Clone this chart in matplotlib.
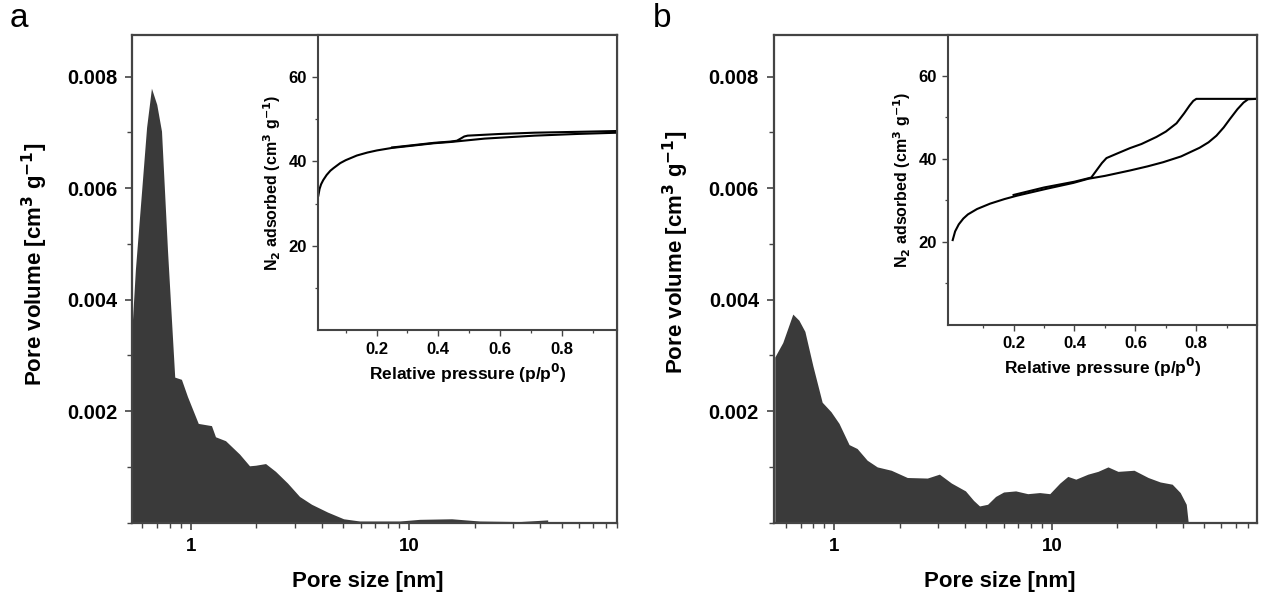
import matplotlib
matplotlib.use("Agg")
import matplotlib.pyplot as plt
from matplotlib.ticker import FixedLocator, MultipleLocator, FormatStrFormatter, LogLocator, NullFormatter
import numpy as np

plt.rcParams["font.family"] = ["Liberation Sans", "DejaVu Sans"]
plt.rcParams["font.weight"] = "bold"
plt.rcParams["mathtext.default"] = "bf"

FILL = "#3a3a3a"
SPINE = "#444444"

# ---- panel a: pore size distribution ----
size_a = [0.535, 0.558, 0.595, 0.628, 0.661, 0.699, 0.735, 0.783, 0.845, 0.907,
          0.967, 1.083, 1.245, 1.299, 1.444, 1.674, 1.860, 1.982, 2.203, 2.447,
          2.778, 3.153, 3.579, 4.236, 5.016, 5.94, 9.06, 11.19, 15.69, 21.08,
          32.15, 43.2]
vol_a = [0.00330, 0.00454, 0.00592, 0.00709, 0.00779, 0.00750, 0.00702, 0.00488, 0.00261, 0.00257,
         0.00226, 0.00178, 0.00174, 0.00154, 0.00147, 0.00123, 0.00102, 0.00103, 0.00106, 0.00092,
         0.00071, 0.00047, 0.00033, 0.00019, 0.00007, 0.00003, 0.00003, 0.00006, 0.00007, 0.00003,
         0.00002, 0.00005]

# ---- panel b: pore size distribution ----
size_b = [0.533, 0.580, 0.645, 0.688, 0.733, 0.798, 0.880, 0.966, 1.052, 1.170,
          1.274, 1.417, 1.576, 1.828, 2.167, 2.679, 3.043, 3.457, 4.011, 4.368,
          4.655, 5.07, 5.517, 6.006, 6.823, 7.75, 8.80, 9.79, 10.89, 11.85,
          12.90, 14.66, 16.30, 18.13, 20.16, 23.89, 27.73, 31.50, 35.77, 38.94,
          41.51, 42.4]
vol_b = [0.00297, 0.00323, 0.00374, 0.00363, 0.00343, 0.00281, 0.00216, 0.00199, 0.00178, 0.00140,
         0.00133, 0.00112, 0.00100, 0.00094, 0.00081, 0.00080, 0.00087, 0.00071, 0.00057, 0.00040,
         0.00030, 0.00033, 0.00047, 0.00055, 0.00057, 0.00052, 0.00054, 0.00052, 0.00071, 0.00083,
         0.00078, 0.00087, 0.00092, 0.00100, 0.00092, 0.00094, 0.00081, 0.00073, 0.00069, 0.00054,
         0.00033, 0.0]

# ---- insets: N2 isotherms (adsorption / desorption) ----
p_ads_a = [0.011, 0.015, 0.02, 0.027, 0.038, 0.05, 0.06, 0.082, 0.1, 0.136,
           0.17, 0.201, 0.25, 0.3, 0.386, 0.44, 0.55, 0.712, 0.85, 0.982]
n_ads_a = [31.9, 33.5, 34.6, 35.6, 36.8, 37.8, 38.4, 39.6, 40.3, 41.4,
           42.1, 42.6, 43.2, 43.6, 44.3, 44.6, 45.4, 46.1, 46.5, 46.8]
p_des_a = [0.982, 0.85, 0.712, 0.6, 0.495, 0.484, 0.47, 0.46, 0.44, 0.386, 0.3, 0.25]
n_des_a = [47.2, 47.0, 46.8, 46.5, 46.1, 45.9, 45.3, 44.9, 44.7, 44.4, 43.7, 43.3]

p_ads_b = [0.0, 0.008, 0.02, 0.035, 0.05, 0.08, 0.123, 0.17, 0.21, 0.309,
           0.396, 0.445, 0.5, 0.582, 0.64, 0.691, 0.75, 0.811, 0.84, 0.866,
           0.89, 0.91, 0.935, 0.955, 0.97, 1.0]
n_ads_b = [20.4, 22.5, 24.2, 25.6, 26.6, 27.9, 29.2, 30.3, 31.1, 32.8,
           34.2, 35.2, 35.9, 37.2, 38.2, 39.2, 40.6, 42.7, 44.0, 45.6,
           47.6, 49.6, 52.0, 53.6, 54.4, 54.5]
p_des_b = [1.0, 0.8, 0.79, 0.778, 0.76, 0.735, 0.7, 0.669, 0.62, 0.582,
           0.54, 0.505, 0.49, 0.47, 0.455, 0.4, 0.3, 0.2]
n_des_b = [54.5, 54.5, 54.0, 52.9, 51.0, 48.6, 46.6, 45.3, 43.6, 42.6,
           41.3, 40.2, 39.0, 37.0, 35.5, 34.5, 33.1, 31.3]

fig = plt.figure(figsize=(12.61, 6.03), dpi=100)


def style_main(ax, size, vol, xlim, xlab_x, ylab_xy):
    ax.fill_between(size, vol, 0, color=FILL, linewidth=0)
    ax.set_xscale("log")
    ax.set_xlim(*xlim)
    ax.set_ylim(0, 0.00875)
    ax.yaxis.set_major_locator(FixedLocator([0.002, 0.004, 0.006, 0.008]))
    ax.yaxis.set_major_formatter(FormatStrFormatter("%.3f"))
    ax.yaxis.set_minor_locator(MultipleLocator(0.001))
    ax.xaxis.set_major_locator(FixedLocator([1, 10]))
    ax.set_xticklabels(["1", "10"])
    ax.xaxis.set_minor_locator(LogLocator(base=10, subs=np.arange(2, 10)))
    ax.xaxis.set_minor_formatter(NullFormatter())
    ax.tick_params(which="major", direction="out", length=5, width=1.2, color=SPINE, pad=6)
    ax.tick_params(axis="y", which="major", labelsize=14.5)
    ax.tick_params(axis="x", which="major", labelsize=13.5)
    ax.tick_params(which="minor", direction="out", length=3.5, width=1.0, color=SPINE)
    for s in ax.spines.values():
        s.set_color(SPINE)
        s.set_linewidth(1.6)
    ax.set_xlabel("Pore size [nm]", fontsize=16, fontweight="bold")
    ax.set_ylabel("Pore volume [cm$^3$ g$^{-1}$]", fontsize=16, fontweight="bold")
    ax.xaxis.set_label_coords(xlab_x, -0.1)
    ax.yaxis.set_label_coords(*ylab_xy)


def style_inset(ins, pa, na, pd, nd, xlim):
    ins.plot(pa, na, color="black", lw=1.5)
    ins.plot(pd, nd, color="black", lw=1.5)
    ins.set_xlim(*xlim)
    ins.set_ylim(0, 70)
    ins.xaxis.set_major_locator(FixedLocator([0.2, 0.4, 0.6, 0.8]))
    ins.xaxis.set_minor_locator(FixedLocator([0.1, 0.3, 0.5, 0.7, 0.9]))
    ins.yaxis.set_major_locator(FixedLocator([20, 40, 60]))
    ins.yaxis.set_minor_locator(FixedLocator([10, 30, 50]))
    ins.tick_params(which="major", direction="out", length=4, width=1.0, color=SPINE,
                    labelsize=12, pad=4)
    ins.tick_params(which="minor", direction="out", length=2.5, width=0.9, color=SPINE)
    for s in ins.spines.values():
        s.set_color(SPINE)
        s.set_linewidth(1.5)
    ins.set_xlabel("Relative pressure (p/p$^0$)", fontsize=12.5, fontweight="bold", labelpad=4)
    ins.set_ylabel("N$_2$ adsorbed (cm$^3$ g$^{-1}$)", fontsize=11.5, fontweight="bold", labelpad=4)


ax_a = fig.add_axes([0.1049, 0.1332, 0.3846, 0.8093])
style_main(ax_a, size_a, vol_a, (0.54, 90), 0.486, (-0.169, 0.53))
ins_a = ax_a.inset_axes([0.383, 0.394, 0.617, 0.606])
style_inset(ins_a, p_ads_a, n_ads_a, p_des_a, n_des_a, (0.01, 0.98))

ax_b = fig.add_axes([0.614, 0.1332, 0.383, 0.8093])
style_main(ax_b, size_b, vol_b, (0.53, 88), 0.466, (-0.173, 0.555))
ins_b = ax_b.inset_axes([0.360, 0.406, 0.640, 0.594])
style_inset(ins_b, p_ads_b, n_ads_b, p_des_b, n_des_b, (-0.015, 1.0))

fig.text(0.008, 0.995, "a", fontsize=24, fontweight="normal", va="top", ha="left")
fig.text(0.518, 0.995, "b", fontsize=24, fontweight="normal", va="top", ha="left")

fig.savefig("out.png", dpi=100)
